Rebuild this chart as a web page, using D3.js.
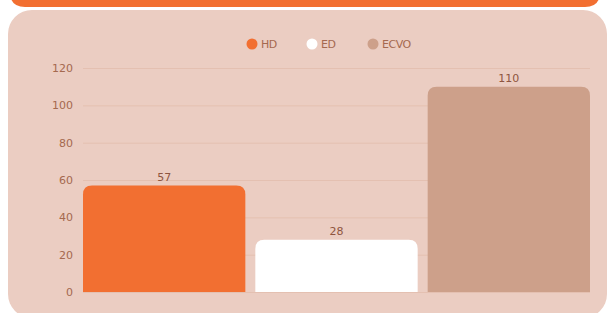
<!DOCTYPE html>
<html>
<head>
<meta charset="utf-8">
<script src="https://cdn.jsdelivr.net/npm/d3@7"></script>
<style>
  body { margin: 0; background: #fff; }
  svg { display: block; font-family: "DejaVu Sans", sans-serif; }
</style>
</head>
<body>
<div id="chart"></div>
<script>
const categories = ['HD', 'ED', 'ECVO'];
const values = [57, 28, 110];
const yTicks = [0, 20, 40, 60, 80, 100, 120];
const colors = ['#f26f31', '#ffffff', '#cda08a'];

const W = 608, H = 313;
const margin = { top: 68, right: 18, bottom: 21, left: 83 };

const svg = d3.select('#chart').append('svg')
  .attr('width', W)
  .attr('height', H);

// top orange strip and card
svg.append('path')
  .attr('d', 'M10,-20 H600 V-8 Q600,7 585,7 H25 Q10,7 10,-8 Z')
  .attr('fill', '#f26f31');
svg.append('rect')
  .attr('x', 8).attr('y', 10)
  .attr('width', 599).attr('height', 308)
  .attr('rx', 24)
  .attr('fill', '#ebcdc2');

const x = d3.scaleBand()
  .domain(categories)
  .range([margin.left, W - margin.right])
  .paddingInner(0.058)
  .paddingOuter(0);

const y = d3.scaleLinear()
  .domain([0, 120])
  .range([H - margin.bottom, margin.top]);

// grid
svg.append('g')
  .selectAll('line')
  .data(yTicks)
  .join('line')
  .attr('x1', margin.left)
  .attr('x2', W - margin.right)
  .attr('y1', d => y(d) + 0.5)
  .attr('y2', d => y(d) + 0.5)
  .attr('stroke', '#e4c0b1')
  .attr('stroke-width', 1);

// y axis labels
const yAxis = svg.append('g')
  .attr('transform', `translate(${margin.left - 10},0)`)
  .call(d3.axisLeft(y).tickValues(yTicks).tickSize(0).tickPadding(0));
yAxis.select('.domain').remove();
yAxis.selectAll('text')
  .attr('fill', '#a5694f')
  .style('font-size', '11px')
  .style('font-family', '"DejaVu Sans", sans-serif');

// bars with rounded top corners
const r = 9;
function barPath(d, i) {
  const x0 = x(categories[i]), x1 = x0 + x.bandwidth();
  const y0 = y(d), yb = y(0);
  return `M${x0},${yb} V${y0 + r} Q${x0},${y0} ${x0 + r},${y0} H${x1 - r} Q${x1},${y0} ${x1},${y0 + r} V${yb} Z`;
}
svg.append('g')
  .selectAll('path')
  .data(values)
  .join('path')
  .attr('d', barPath)
  .attr('fill', (d, i) => colors[i]);

// value labels
svg.append('g')
  .selectAll('text')
  .data(values)
  .join('text')
  .attr('x', (d, i) => x(categories[i]) + x.bandwidth() / 2)
  .attr('y', d => y(d) - 5)
  .attr('text-anchor', 'middle')
  .attr('fill', '#8e5540')
  .style('font-size', '11px')
  .text(d => d);

// legend
const legendX = [252, 312, 373];
const legend = svg.append('g')
  .selectAll('g')
  .data(categories)
  .join('g')
  .attr('transform', (d, i) => `translate(${legendX[i]},44)`);
legend.append('circle')
  .attr('r', 5.5)
  .attr('fill', (d, i) => colors[i]);
legend.append('text')
  .attr('x', 9)
  .attr('dy', '0.35em')
  .attr('fill', '#a5694f')
  .style('font-size', '11px')
  .style('letter-spacing', '-0.5px')
  .text(d => d);
</script>
</body>
</html>
